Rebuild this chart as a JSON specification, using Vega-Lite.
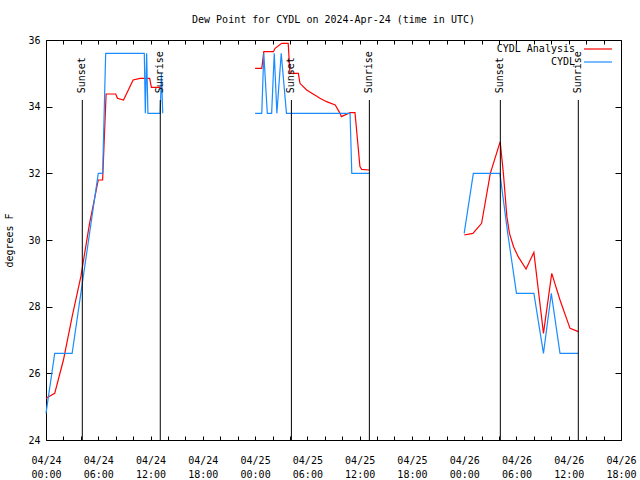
{
  "$schema": "https://vega.github.io/schema/vega-lite/v6.json",
  "autosize": "none",
  "width": 575,
  "height": 400,
  "padding": {"left": 46, "top": 40, "right": 19, "bottom": 40},
  "background": "white",
  "title": {"text": "Dew Point for CYDL on 2024-Apr-24 (time in UTC)", "font": "DejaVu Sans Mono", "fontSize": 10, "fontWeight": "normal", "offset": 10, "anchor": "middle", "color": "black"},
  "datasets": {
    "obs": [
      {"series": "CYDL Analysis", "seg": "a1", "t": "2024-04-24T00:00:00Z", "v": 25.25},
      {"series": "CYDL Analysis", "seg": "a1", "t": "2024-04-24T01:00:00Z", "v": 25.4},
      {"series": "CYDL Analysis", "seg": "a1", "t": "2024-04-24T02:00:00Z", "v": 26.4},
      {"series": "CYDL Analysis", "seg": "a1", "t": "2024-04-24T03:00:00Z", "v": 27.7},
      {"series": "CYDL Analysis", "seg": "a1", "t": "2024-04-24T04:00:00Z", "v": 28.9},
      {"series": "CYDL Analysis", "seg": "a1", "t": "2024-04-24T05:00:00Z", "v": 30.5},
      {"series": "CYDL Analysis", "seg": "a1", "t": "2024-04-24T06:00:00Z", "v": 31.8},
      {"series": "CYDL Analysis", "seg": "a1", "t": "2024-04-24T06:30:00Z", "v": 31.8},
      {"series": "CYDL Analysis", "seg": "a1", "t": "2024-04-24T06:54:00Z", "v": 34.38},
      {"series": "CYDL Analysis", "seg": "a1", "t": "2024-04-24T08:00:00Z", "v": 34.38},
      {"series": "CYDL Analysis", "seg": "a1", "t": "2024-04-24T08:12:00Z", "v": 34.25},
      {"series": "CYDL Analysis", "seg": "a1", "t": "2024-04-24T08:54:00Z", "v": 34.2},
      {"series": "CYDL Analysis", "seg": "a1", "t": "2024-04-24T10:00:00Z", "v": 34.8},
      {"series": "CYDL Analysis", "seg": "a1", "t": "2024-04-24T10:48:00Z", "v": 34.85},
      {"series": "CYDL Analysis", "seg": "a1", "t": "2024-04-24T11:54:00Z", "v": 34.85},
      {"series": "CYDL Analysis", "seg": "a1", "t": "2024-04-24T12:06:00Z", "v": 34.58},
      {"series": "CYDL Analysis", "seg": "a1", "t": "2024-04-24T13:21:00Z", "v": 34.58},
      {"series": "CYDL Analysis", "seg": "a2", "t": "2024-04-25T00:00:00Z", "v": 35.15},
      {"series": "CYDL Analysis", "seg": "a2", "t": "2024-04-25T00:46:00Z", "v": 35.15},
      {"series": "CYDL Analysis", "seg": "a2", "t": "2024-04-25T01:00:00Z", "v": 35.65},
      {"series": "CYDL Analysis", "seg": "a2", "t": "2024-04-25T02:06:00Z", "v": 35.65},
      {"series": "CYDL Analysis", "seg": "a2", "t": "2024-04-25T02:18:00Z", "v": 35.75},
      {"series": "CYDL Analysis", "seg": "a2", "t": "2024-04-25T03:03:00Z", "v": 35.9},
      {"series": "CYDL Analysis", "seg": "a2", "t": "2024-04-25T03:48:00Z", "v": 35.9},
      {"series": "CYDL Analysis", "seg": "a2", "t": "2024-04-25T04:00:00Z", "v": 35.0},
      {"series": "CYDL Analysis", "seg": "a2", "t": "2024-04-25T04:58:00Z", "v": 35.0},
      {"series": "CYDL Analysis", "seg": "a2", "t": "2024-04-25T05:09:00Z", "v": 34.7},
      {"series": "CYDL Analysis", "seg": "a2", "t": "2024-04-25T05:55:00Z", "v": 34.5},
      {"series": "CYDL Analysis", "seg": "a2", "t": "2024-04-25T07:27:00Z", "v": 34.25},
      {"series": "CYDL Analysis", "seg": "a2", "t": "2024-04-25T08:12:00Z", "v": 34.15},
      {"series": "CYDL Analysis", "seg": "a2", "t": "2024-04-25T09:12:00Z", "v": 34.05},
      {"series": "CYDL Analysis", "seg": "a2", "t": "2024-04-25T09:45:00Z", "v": 33.8},
      {"series": "CYDL Analysis", "seg": "a2", "t": "2024-04-25T09:54:00Z", "v": 33.7},
      {"series": "CYDL Analysis", "seg": "a2", "t": "2024-04-25T10:54:00Z", "v": 33.82},
      {"series": "CYDL Analysis", "seg": "a2", "t": "2024-04-25T11:28:00Z", "v": 33.82},
      {"series": "CYDL Analysis", "seg": "a2", "t": "2024-04-25T11:39:00Z", "v": 33.3},
      {"series": "CYDL Analysis", "seg": "a2", "t": "2024-04-25T12:02:00Z", "v": 32.2},
      {"series": "CYDL Analysis", "seg": "a2", "t": "2024-04-25T12:14:00Z", "v": 32.12},
      {"series": "CYDL Analysis", "seg": "a2", "t": "2024-04-25T13:06:00Z", "v": 32.1},
      {"series": "CYDL Analysis", "seg": "a3", "t": "2024-04-26T00:00:00Z", "v": 30.15},
      {"series": "CYDL Analysis", "seg": "a3", "t": "2024-04-26T01:00:00Z", "v": 30.2},
      {"series": "CYDL Analysis", "seg": "a3", "t": "2024-04-26T02:00:00Z", "v": 30.5},
      {"series": "CYDL Analysis", "seg": "a3", "t": "2024-04-26T03:00:00Z", "v": 32.0},
      {"series": "CYDL Analysis", "seg": "a3", "t": "2024-04-26T04:08:00Z", "v": 32.95},
      {"series": "CYDL Analysis", "seg": "a3", "t": "2024-04-26T04:30:00Z", "v": 32.0},
      {"series": "CYDL Analysis", "seg": "a3", "t": "2024-04-26T04:54:00Z", "v": 30.7},
      {"series": "CYDL Analysis", "seg": "a3", "t": "2024-04-26T05:12:00Z", "v": 30.2},
      {"series": "CYDL Analysis", "seg": "a3", "t": "2024-04-26T05:40:00Z", "v": 29.8},
      {"series": "CYDL Analysis", "seg": "a3", "t": "2024-04-26T06:12:00Z", "v": 29.5},
      {"series": "CYDL Analysis", "seg": "a3", "t": "2024-04-26T07:06:00Z", "v": 29.13},
      {"series": "CYDL Analysis", "seg": "a3", "t": "2024-04-26T08:00:00Z", "v": 29.63},
      {"series": "CYDL Analysis", "seg": "a3", "t": "2024-04-26T09:06:00Z", "v": 27.2},
      {"series": "CYDL Analysis", "seg": "a3", "t": "2024-04-26T10:03:00Z", "v": 29.0},
      {"series": "CYDL Analysis", "seg": "a3", "t": "2024-04-26T11:00:00Z", "v": 28.2},
      {"series": "CYDL Analysis", "seg": "a3", "t": "2024-04-26T12:09:00Z", "v": 27.35},
      {"series": "CYDL Analysis", "seg": "a3", "t": "2024-04-26T13:06:00Z", "v": 27.25},
      {"series": "CYDL", "seg": "b1", "t": "2024-04-24T00:00:00Z", "v": 24.8},
      {"series": "CYDL", "seg": "b1", "t": "2024-04-24T01:00:00Z", "v": 26.6},
      {"series": "CYDL", "seg": "b1", "t": "2024-04-24T03:00:00Z", "v": 26.6},
      {"series": "CYDL", "seg": "b1", "t": "2024-04-24T06:00:00Z", "v": 32.0},
      {"series": "CYDL", "seg": "b1", "t": "2024-04-24T06:30:00Z", "v": 32.0},
      {"series": "CYDL", "seg": "b1", "t": "2024-04-24T06:51:00Z", "v": 35.6},
      {"series": "CYDL", "seg": "b1", "t": "2024-04-24T11:17:00Z", "v": 35.6},
      {"series": "CYDL", "seg": "b1", "t": "2024-04-24T11:24:00Z", "v": 33.8},
      {"series": "CYDL", "seg": "b1", "t": "2024-04-24T11:33:00Z", "v": 35.6},
      {"series": "CYDL", "seg": "b1", "t": "2024-04-24T11:42:00Z", "v": 33.8},
      {"series": "CYDL", "seg": "b1", "t": "2024-04-24T13:06:00Z", "v": 33.8},
      {"series": "CYDL", "seg": "b1", "t": "2024-04-24T13:15:00Z", "v": 35.0},
      {"series": "CYDL", "seg": "b1", "t": "2024-04-24T13:24:00Z", "v": 33.8},
      {"series": "CYDL", "seg": "b2", "t": "2024-04-25T00:00:00Z", "v": 33.8},
      {"series": "CYDL", "seg": "b2", "t": "2024-04-25T00:46:00Z", "v": 33.8},
      {"series": "CYDL", "seg": "b2", "t": "2024-04-25T01:00:00Z", "v": 35.6},
      {"series": "CYDL", "seg": "b2", "t": "2024-04-25T01:24:00Z", "v": 33.8},
      {"series": "CYDL", "seg": "b2", "t": "2024-04-25T01:54:00Z", "v": 33.8},
      {"series": "CYDL", "seg": "b2", "t": "2024-04-25T02:12:00Z", "v": 35.6},
      {"series": "CYDL", "seg": "b2", "t": "2024-04-25T02:30:00Z", "v": 33.8},
      {"series": "CYDL", "seg": "b2", "t": "2024-04-25T03:00:00Z", "v": 35.6},
      {"series": "CYDL", "seg": "b2", "t": "2024-04-25T03:36:00Z", "v": 33.8},
      {"series": "CYDL", "seg": "b2", "t": "2024-04-25T10:54:00Z", "v": 33.8},
      {"series": "CYDL", "seg": "b2", "t": "2024-04-25T11:06:00Z", "v": 32.0},
      {"series": "CYDL", "seg": "b2", "t": "2024-04-25T13:06:00Z", "v": 32.0},
      {"series": "CYDL", "seg": "b3", "t": "2024-04-26T00:00:00Z", "v": 30.2},
      {"series": "CYDL", "seg": "b3", "t": "2024-04-26T01:03:00Z", "v": 32.0},
      {"series": "CYDL", "seg": "b3", "t": "2024-04-26T04:06:00Z", "v": 32.0},
      {"series": "CYDL", "seg": "b3", "t": "2024-04-26T05:00:00Z", "v": 30.2},
      {"series": "CYDL", "seg": "b3", "t": "2024-04-26T06:00:00Z", "v": 28.4},
      {"series": "CYDL", "seg": "b3", "t": "2024-04-26T08:00:00Z", "v": 28.4},
      {"series": "CYDL", "seg": "b3", "t": "2024-04-26T09:06:00Z", "v": 26.6},
      {"series": "CYDL", "seg": "b3", "t": "2024-04-26T10:00:00Z", "v": 28.4},
      {"series": "CYDL", "seg": "b3", "t": "2024-04-26T11:00:00Z", "v": 26.6},
      {"series": "CYDL", "seg": "b3", "t": "2024-04-26T13:06:00Z", "v": 26.6}
    ],
    "sun": [
      {"t": "2024-04-24T04:10:00Z", "label": "Sunset"},
      {"t": "2024-04-24T13:07:00Z", "label": "Sunrise"},
      {"t": "2024-04-25T04:10:00Z", "label": "Sunset"},
      {"t": "2024-04-25T13:07:00Z", "label": "Sunrise"},
      {"t": "2024-04-26T04:09:00Z", "label": "Sunset"},
      {"t": "2024-04-26T13:06:00Z", "label": "Sunrise"}
    ]
  },
  "layer": [
    {
      "data": {"name": "obs"},
      "mark": {"type": "line", "strokeWidth": 1.2},
      "encoding": {
        "x": {"field": "t", "type": "temporal",
              "scale": {"type": "utc", "domain": [{"year": 2024, "month": 4, "date": 24, "hours": 0, "utc": true}, {"year": 2024, "month": 4, "date": 26, "hours": 18, "utc": true}]},
              "axis": {"orient": "bottom", "title": null, "domain": false, "grid": false, "tickSize": -4, "tickColor": "black",
                       "values": [
                         {"year": 2024, "month": 4, "date": 24, "hours": 0, "utc": true}, {"year": 2024, "month": 4, "date": 24, "hours": 6, "utc": true},
                         {"year": 2024, "month": 4, "date": 24, "hours": 12, "utc": true}, {"year": 2024, "month": 4, "date": 24, "hours": 18, "utc": true},
                         {"year": 2024, "month": 4, "date": 25, "hours": 0, "utc": true}, {"year": 2024, "month": 4, "date": 25, "hours": 6, "utc": true},
                         {"year": 2024, "month": 4, "date": 25, "hours": 12, "utc": true}, {"year": 2024, "month": 4, "date": 25, "hours": 18, "utc": true},
                         {"year": 2024, "month": 4, "date": 26, "hours": 0, "utc": true}, {"year": 2024, "month": 4, "date": 26, "hours": 6, "utc": true},
                         {"year": 2024, "month": 4, "date": 26, "hours": 12, "utc": true}, {"year": 2024, "month": 4, "date": 26, "hours": 18, "utc": true}
                       ],
                       "labelExpr": "[utcFormat(datum.value, '%m/%d'), utcFormat(datum.value, '%H:%M')]",
                       "labelFont": "DejaVu Sans Mono", "labelFontSize": 10, "labelColor": "black", "labelPadding": 19, "labelLineHeight": 14, "labelFlush": false, "labelOverlap": false}},
        "y": {"field": "v", "type": "quantitative",
              "scale": {"domain": [24, 36], "nice": false},
              "axis": {"orient": "left", "title": "degrees F", "domain": false, "grid": false, "tickSize": -6, "tickColor": "black", "values": [24, 26, 28, 30, 32, 34, 36],
                       "labelFont": "DejaVu Sans Mono", "labelFontSize": 10, "labelColor": "black", "labelPadding": 12,
                       "titleFont": "DejaVu Sans Mono", "titleFontSize": 10, "titleFontWeight": "normal", "titleColor": "black", "titlePadding": 13}},
        "color": {"field": "series", "type": "nominal",
                  "scale": {"domain": ["CYDL Analysis", "CYDL"], "range": ["#ff0000", "#1a8cff"]},
                  "legend": {"orient": "none", "legendX": 544, "legendY": 1, "title": null, "symbolType": "M-2,0L2,0", "symbolSize": 196, "symbolStrokeWidth": 1.2,
                             "labelFont": "DejaVu Sans Mono", "labelFontSize": 10, "labelColor": "black", "labelAlign": "right", "labelOffset": -31, "rowPadding": 0}},
        "detail": {"field": "seg"}
      }
    },
    {
      "data": {"name": "sun"},
      "mark": {"type": "rule", "color": "black"},
      "encoding": {
        "x": {"field": "t", "type": "temporal",
              "axis": {"orient": "bottom", "title": null, "labels": false, "domain": false, "grid": false, "tickSize": -4, "tickColor": "black",
                       "values": [
                         {"year": 2024, "month": 4, "date": 24, "hours": 2, "utc": true}, {"year": 2024, "month": 4, "date": 24, "hours": 4, "utc": true},
                         {"year": 2024, "month": 4, "date": 24, "hours": 8, "utc": true}, {"year": 2024, "month": 4, "date": 24, "hours": 10, "utc": true},
                         {"year": 2024, "month": 4, "date": 24, "hours": 14, "utc": true}, {"year": 2024, "month": 4, "date": 24, "hours": 16, "utc": true},
                         {"year": 2024, "month": 4, "date": 24, "hours": 20, "utc": true}, {"year": 2024, "month": 4, "date": 24, "hours": 22, "utc": true},
                         {"year": 2024, "month": 4, "date": 25, "hours": 2, "utc": true}, {"year": 2024, "month": 4, "date": 25, "hours": 4, "utc": true},
                         {"year": 2024, "month": 4, "date": 25, "hours": 8, "utc": true}, {"year": 2024, "month": 4, "date": 25, "hours": 10, "utc": true},
                         {"year": 2024, "month": 4, "date": 25, "hours": 14, "utc": true}, {"year": 2024, "month": 4, "date": 25, "hours": 16, "utc": true},
                         {"year": 2024, "month": 4, "date": 25, "hours": 20, "utc": true}, {"year": 2024, "month": 4, "date": 25, "hours": 22, "utc": true},
                         {"year": 2024, "month": 4, "date": 26, "hours": 2, "utc": true}, {"year": 2024, "month": 4, "date": 26, "hours": 4, "utc": true},
                         {"year": 2024, "month": 4, "date": 26, "hours": 8, "utc": true}, {"year": 2024, "month": 4, "date": 26, "hours": 10, "utc": true},
                         {"year": 2024, "month": 4, "date": 26, "hours": 14, "utc": true}, {"year": 2024, "month": 4, "date": 26, "hours": 16, "utc": true}
                       ]}},
        "y": {"datum": 34.2, "type": "quantitative",
              "axis": {"orient": "right", "title": null, "labels": false, "domain": false, "grid": false, "tickSize": -6, "tickColor": "black", "values": [24, 26, 28, 30, 32, 34, 36]}},
        "y2": {"datum": 24}
      }
    },
    {
      "data": {"name": "sun"},
      "mark": {"type": "text", "angle": 270, "align": "left", "baseline": "middle", "font": "DejaVu Sans Mono", "fontSize": 10, "color": "black"},
      "encoding": {
        "x": {"field": "t", "type": "temporal",
              "axis": {"orient": "top", "title": null, "labels": false, "domain": false, "grid": false, "tickSize": -4, "tickColor": "black",
                       "values": [
                         {"year": 2024, "month": 4, "date": 24, "hours": 0, "utc": true}, {"year": 2024, "month": 4, "date": 24, "hours": 2, "utc": true},
                         {"year": 2024, "month": 4, "date": 24, "hours": 4, "utc": true}, {"year": 2024, "month": 4, "date": 24, "hours": 6, "utc": true},
                         {"year": 2024, "month": 4, "date": 24, "hours": 8, "utc": true}, {"year": 2024, "month": 4, "date": 24, "hours": 10, "utc": true},
                         {"year": 2024, "month": 4, "date": 24, "hours": 12, "utc": true}, {"year": 2024, "month": 4, "date": 24, "hours": 14, "utc": true},
                         {"year": 2024, "month": 4, "date": 24, "hours": 16, "utc": true}, {"year": 2024, "month": 4, "date": 24, "hours": 18, "utc": true},
                         {"year": 2024, "month": 4, "date": 24, "hours": 20, "utc": true}, {"year": 2024, "month": 4, "date": 24, "hours": 22, "utc": true},
                         {"year": 2024, "month": 4, "date": 25, "hours": 0, "utc": true}, {"year": 2024, "month": 4, "date": 25, "hours": 2, "utc": true},
                         {"year": 2024, "month": 4, "date": 25, "hours": 4, "utc": true}, {"year": 2024, "month": 4, "date": 25, "hours": 6, "utc": true},
                         {"year": 2024, "month": 4, "date": 25, "hours": 8, "utc": true}, {"year": 2024, "month": 4, "date": 25, "hours": 10, "utc": true},
                         {"year": 2024, "month": 4, "date": 25, "hours": 12, "utc": true}, {"year": 2024, "month": 4, "date": 25, "hours": 14, "utc": true},
                         {"year": 2024, "month": 4, "date": 25, "hours": 16, "utc": true}, {"year": 2024, "month": 4, "date": 25, "hours": 18, "utc": true},
                         {"year": 2024, "month": 4, "date": 25, "hours": 20, "utc": true}, {"year": 2024, "month": 4, "date": 25, "hours": 22, "utc": true},
                         {"year": 2024, "month": 4, "date": 26, "hours": 0, "utc": true}, {"year": 2024, "month": 4, "date": 26, "hours": 2, "utc": true},
                         {"year": 2024, "month": 4, "date": 26, "hours": 4, "utc": true}, {"year": 2024, "month": 4, "date": 26, "hours": 6, "utc": true},
                         {"year": 2024, "month": 4, "date": 26, "hours": 8, "utc": true}, {"year": 2024, "month": 4, "date": 26, "hours": 10, "utc": true},
                         {"year": 2024, "month": 4, "date": 26, "hours": 12, "utc": true}, {"year": 2024, "month": 4, "date": 26, "hours": 14, "utc": true},
                         {"year": 2024, "month": 4, "date": 26, "hours": 16, "utc": true}, {"year": 2024, "month": 4, "date": 26, "hours": 18, "utc": true}
                       ]}},
        "y": {"datum": 34.4, "type": "quantitative", "axis": null},
        "text": {"field": "label"}
      }
    }
  ],
  "resolve": {"axis": {"x": "independent", "y": "independent"}},
  "config": {"view": {"stroke": "black"}, "font": "DejaVu Sans Mono"}
}
